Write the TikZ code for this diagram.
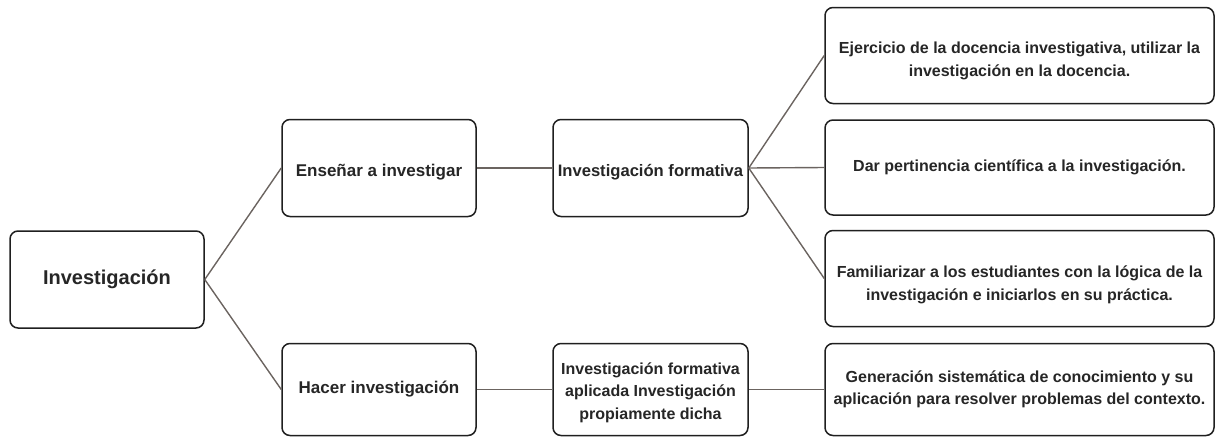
\documentclass[tikz,border=0pt]{standalone}
\usepackage{fontspec}
\setmainfont{Liberation Sans}
\definecolor{linkgray}{HTML}{6B6460}
% invisible strut that lowers a node's first line
\newcommand{\lowr}[1]{\rule{0pt}{#1}}
\begin{document}
\begin{tikzpicture}[x=1pt,y=-1pt,
  box/.style={draw=black!88, line width=1.5pt, rounded corners=8pt, fill=white,
    align=center, font=\bfseries\fontsize{16}{22.5}\selectfont, text=black!85,
    inner sep=0pt},
  midbox/.style={box, minimum width=194pt, minimum height=97pt},
  wide/.style={box, minimum width=389pt, minimum height=96pt},
  link/.style={draw=linkgray, line width=1.4pt}]
\useasboundingbox (0,0) rectangle (1215,437);
% root
\node[box, minimum width=194pt, minimum height=97pt, font=\bfseries\fontsize{20}{24}\selectfont] (root) at (107,279.5) {Investigación};
% second level
\node[midbox, font=\bfseries\fontsize{17}{21}\selectfont] (teach) at (379,168) {\lowr{20pt}Enseñar a investigar};
\node[midbox, minimum height=92pt, font=\bfseries\fontsize{17}{21}\selectfont] (do) at (379,389.5) {Hacer investigación};
% third level
\node[midbox, minimum width=195pt, font=\bfseries\fontsize{16.6}{21}\selectfont] (form) at (650.5,168) {\lowr{20pt}Investigación formativa};
\node[midbox, minimum width=195pt, minimum height=92pt] (appl) at (650.5,389.5) {\lowr{18pt}Investigación formativa\\aplicada Investigación\\propiamente dicha};
% outcomes
\node[wide] (r1) at (1019.5,55.5) {\lowr{22pt}Ejercicio de la docencia investigativa, utilizar la\\investigación en la docencia.};
\node[wide, minimum height=95pt] (r2) at (1019.5,167.5) {Dar pertinencia científica a la investigación.};
\node[wide] (r3) at (1019.5,278.5) {\lowr{24pt}Familiarizar a los estudiantes con la lógica de la\\investigación e iniciarlos en su práctica.};
\node[wide, minimum height=92pt] (r4) at (1019.5,389.5) {Generación sistemática de conocimiento y su\\aplicación para resolver problemas del contexto.};
% connectors
\draw[link] (root.east) -- (teach.west);
\draw[link] (root.east) -- (do.west);
\draw[link] (teach.east) -- (form.west);
\draw[link] (do.east) -- (appl.west);
\draw[link] (form.east) -- (r1.west);
\draw[link] (form.east) -- (r2.west);
\draw[link] (form.east) -- (r3.west);
\draw[link] (appl.east) -- (r4.west);
\end{tikzpicture}
\end{document}
